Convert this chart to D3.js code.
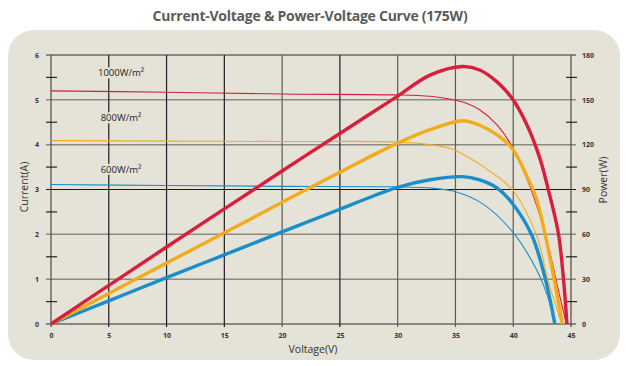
<!DOCTYPE html>
<html><head><meta charset="utf-8">
<script src="https://cdn.jsdelivr.net/npm/d3@7"></script>
<style>
body{margin:0;background:#fff;}
svg{display:block;}
</style></head>
<body>
<svg id="c" width="627" height="366"></svg>
<script>
// ---- data ----
const voltageTicks = [0,5,10,15,20,25,30,35,40,45];
const currentTicks = [0,1,2,3,4,5,6];
const powerTicks = [0,30,60,90,120,150,180];
const irradianceLabels = ["1000W/m²","800W/m²","600W/m²"];
const labelCurrent = [5.6, 4.6, 3.45];

// I-V curves [voltage, current]
const iv1000 = [[0,5.2],[10,5.17],[20,5.13],[30,5.11],[32.8,5.08],[34.5,5.02],[36,4.92],[37.1,4.78],[38.6,4.44],[39.9,3.96],[41.5,3.03],[42.9,1.88],[43.9,0.76],[44.6,0]];
const iv800  = [[0,4.09],[10,4.08],[20,4.07],[30,4.06],[32.8,4.0],[34.5,3.92],[35.1,3.86],[37.4,3.51],[39.9,3.0],[42.0,1.99],[43.0,0.98],[44.2,0]];
const iv600  = [[0,3.11],[10,3.09],[20,3.07],[30,3.06],[33,3.03],[35,2.95],[37.3,2.69],[40,2.04],[42,1.22],[43,0.6],[43.6,0]];

// P-V curves [voltage, power]
const pv1000 = [[0,0],[5,25.8],[10,51.5],[15,77],[20,102.4],[25,127.5],[28,142.5],[30,152.5],[32.8,166.5],[35.6,172.3],[37.1,170],[38.6,162],[39.9,151],[41.2,133],[42.3,111],[43.0,91],[43.9,61],[44.35,30],[44.65,0]];
const pv800  = [[0,0],[5,20.4],[10,40.8],[15,61],[20,81.4],[25,101.5],[28,113.5],[30,121],[32.8,130],[35.6,136],[37.1,133],[38.6,126.6],[39.9,117.6],[41.3,97],[42.0,84],[42.77,59.6],[43.55,29.5],[44.25,0]];
const pv600  = [[0,0],[5,15.5],[10,31],[15,46.3],[20,61.6],[25,76.8],[28,86],[30,91.5],[32.8,96.5],[35.6,98.6],[37.1,96.4],[38.6,91],[39.9,81],[41.6,59.6],[42.8,29.5],[43.6,0]];

const colors = {r:"#d71e3c", y:"#f2ac1b", b:"#1a8ecb"};

// ---- drawing ----
const svg = d3.select("#c");
const panel = "#e5e2d8";
svg.append("rect").attr("x",8).attr("y",30).attr("width",612).attr("height",330).attr("rx",26).attr("fill",panel);

svg.append("text").attr("x",310).attr("y",21).attr("text-anchor","middle")
  .attr("font-family","Open Sans").attr("font-weight",700).attr("font-size",14)
  .attr("fill","#5b5b5b").attr("letter-spacing",-0.25)
  .text("Current-Voltage & Power-Voltage Curve (175W)");

const x = d3.scaleLinear([0,45],[51,571]);
const yI = d3.scaleLinear([0,6],[324,55]);
const yP = d3.scaleLinear([0,180],[324,55]);

const g = svg.append("g");
// horizontal gridlines
const hColor = v => v===3 ? "#1a1a1a" : (v===0||v===6 ? "#6b6860" : "#8d8a82");
g.selectAll(".hg").data(currentTicks).join("line")
  .attr("x1",46).attr("x2",576).attr("y1",d=>yI(d)).attr("y2",d=>yI(d))
  .attr("stroke",hColor).attr("stroke-width",d=>d===3?1.2:1.5);
// vertical gridlines
const vDark = [5,10,15,25];
g.selectAll(".vg").data(voltageTicks.filter(v=>v>0&&v<45)).join("line")
  .attr("x1",d=>x(d)).attr("x2",d=>x(d)).attr("y1",55).attr("y2",327)
  .attr("stroke",d=>vDark.includes(d)?"#1e1e1e":"#5e5b55").attr("stroke-width",1.2);
// left & right axis lines
g.append("line").attr("x1",x(0)).attr("x2",x(0)).attr("y1",55).attr("y2",327).attr("stroke","#4a4843").attr("stroke-width",1.2);
g.append("line").attr("x1",x(45)).attr("x2",x(45)).attr("y1",55).attr("y2",327).attr("stroke","#4a4843").attr("stroke-width",1.2);
// minor ticks
const minor = d3.range(0.5,6,1);
g.selectAll(".ml").data(minor).join("line").attr("x1",x(0)-5).attr("x2",x(0)+6)
  .attr("y1",d=>yI(d)).attr("y2",d=>yI(d)).attr("stroke","#222").attr("stroke-width",1.2);
g.selectAll(".mr").data(minor).join("line").attr("x1",x(45)-5).attr("x2",x(45)+6)
  .attr("y1",d=>yI(d)).attr("y2",d=>yI(d)).attr("stroke","#222").attr("stroke-width",1.2);

// irradiance labels with background boxes
const lab = svg.append("g");
irradianceLabels.forEach((t,i)=>{
  const tx = lab.append("text").attr("x",121).attr("y",yI(labelCurrent[i])+3.5)
    .attr("text-anchor","middle").attr("font-family","Open Sans").attr("font-size",9.5)
    .attr("fill","#222").text(t);
  const bb = tx.node().getBBox();
  lab.insert("rect","text").attr("x",bb.x-1).attr("y",bb.y+1).attr("width",bb.width+2).attr("height",bb.height-2).attr("fill",panel);
});

// curves
const curve = d3.curveCatmullRom.alpha(0.5);
const lineI = d3.line().x(d=>x(d[0])).y(d=>yI(d[1])).curve(curve);
const lineP = d3.line().x(d=>x(d[0])).y(d=>yP(d[1])).curve(curve);
const series = [
  {iv:iv600,pv:pv600,c:colors.b},
  {iv:iv800,pv:pv800,c:colors.y},
  {iv:iv1000,pv:pv1000,c:colors.r}
];
series.forEach(s=>{
  svg.append("path").attr("d",lineI(s.iv)).attr("fill","none").attr("stroke",s.c).attr("stroke-width",1.1);
});
series.forEach(s=>{
  svg.append("path").attr("d",lineP(s.pv)).attr("fill","none").attr("stroke",s.c).attr("stroke-width",3.4);
});

// axes labels via d3 axes
const fmt = d3.format("d");
const tickFont = sel => sel.selectAll("text").attr("font-family","Open Sans").attr("font-weight",700).attr("font-size",7).attr("fill","#333");
const ax = svg.append("g").attr("transform","translate(0,324)")
  .call(d3.axisBottom(x).tickValues(voltageTicks).tickFormat(fmt).tickSize(0).tickPadding(9));
ax.select(".domain").remove(); tickFont(ax);
const al = svg.append("g").attr("transform",`translate(${x(0)},0)`)
  .call(d3.axisLeft(yI).tickValues(currentTicks).tickFormat(fmt).tickSize(0).tickPadding(12));
al.select(".domain").remove(); tickFont(al);
const ar = svg.append("g").attr("transform",`translate(${x(45)},0)`)
  .call(d3.axisRight(yP).tickValues(powerTicks).tickFormat(fmt).tickSize(0).tickPadding(11));
ar.select(".domain").remove(); tickFont(ar);

svg.append("text").attr("x",313).attr("y",353).attr("text-anchor","middle")
  .attr("font-family","Open Sans").attr("font-size",10.5).attr("fill","#333").text("Voltage(V)");
svg.append("text").attr("transform","translate(28,187) rotate(-90)").attr("text-anchor","middle")
  .attr("font-family","Open Sans").attr("font-size",10.5).attr("fill","#333").text("Current(A)");
svg.append("text").attr("transform","translate(607,180) rotate(-90)").attr("text-anchor","middle")
  .attr("font-family","Open Sans").attr("font-size",10.5).attr("fill","#333").text("Power(W)");
</script>
</body></html>
